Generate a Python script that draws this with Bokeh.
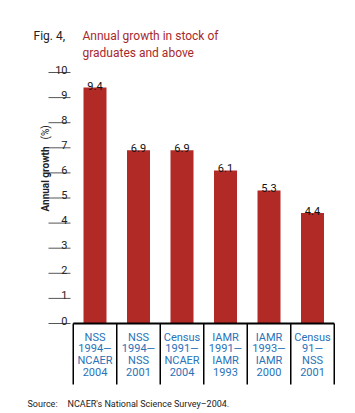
import math
from bokeh.plotting import figure
from bokeh.models import Range1d
from bokeh.core.properties import value
from bokeh.embed import file_html
from bokeh.resources import INLINE

# ---- data ----
categories = [
    "NSS\n1994\u2014\nNCAER\n2004",
    "NSS\n1994\u2014\nNSS\n2001",
    "Census\n1991\u2014\nNCAER\n2004",
    "IAMR\n1991\u2014\nIAMR\n1993",
    "IAMR\n1993\u2014\nIAMR\n2000",
    "Census\n91\u2014\nNSS\n2001",
]
growth = [9.4, 6.9, 6.9, 6.1, 5.3, 4.4]
value_labels = ["9.4", "6.9", "6.9", "6.1", "5.3", "4.4"]
y_ticks = [0, 1, 2, 3, 4, 5, 6, 7, 8, 9, 10]
y_tick_labels = [str(t) for t in y_ticks]

# ---- layout (page pixel units) ----
W, H = 355, 413
PXU_X = 43.5
X0 = 94.5
PXU_Y = 25.1
Y0 = 323.0
FONT = "Roboto"
BAR = "#b22a26"
RED = "#a8282d"
BLUE = "#2a72b8"

x_start = -X0 / PXU_X
x_end = x_start + W / PXU_X
y_start = -(H - Y0) / PXU_Y
y_end = Y0 / PXU_Y

p = figure(width=W, height=H,
           x_range=Range1d(x_start, x_end), y_range=Range1d(y_start, y_end),
           output_backend="svg", toolbar_location=None, min_border=0,
           x_axis_location=None, y_axis_location=None,
           outline_line_color=None, background_fill_color="white")
p.grid.visible = False
p.extra_x_ranges = {"px": Range1d(0, W)}
p.extra_y_ranges = {"py": Range1d(H, 0)}

idx = list(range(len(categories)))

# bars
p.vbar(x=idx, top=growth, bottom=0, width=23 / PXU_X, color=BAR, line_color=None)

# value labels
p.text(x=idx, y=growth, text=value_labels, text_align="center",
       text_baseline="alphabetic", y_offset=-2,
       text_font=value(FONT), text_font_size="11px", text_color="#111111")

# category box
box_bottom = -(384 - Y0) / PXU_Y
edges = [i - 0.5 for i in range(len(categories) + 1)]
p.segment(x0=[edges[0]], x1=[edges[-1]], y0=[0], y1=[0], line_color="black", line_width=2)
p.segment(x0=edges, x1=edges, y0=[0] * len(edges), y1=[box_bottom] * len(edges),
          line_color="black", line_width=1.5)

# category labels
p.text(x=idx, y=[-(330 - Y0) / PXU_Y] * len(idx), text=categories,
       text_align="center", text_baseline="top", text_line_height=0.92,
       text_font=value(FONT), text_font_size="11px", text_color=BLUE)

# y ticks
p.segment(x0=[48] * len(y_ticks), x1=[70] * len(y_ticks), y0=y_ticks, y1=y_ticks,
          x_range_name="px", line_color="#555555", line_width=1)
p.text(x=[67] * len(y_ticks), y=y_ticks, text=y_tick_labels, x_range_name="px",
       text_align="right", text_baseline="alphabetic", y_offset=-3,
       text_font=value(FONT), text_font_size="11px", text_color="#222222")

# axis title
p.text(x=[45], y=[211], text=["Annual growth"], angle=math.pi / 2,
       x_range_name="px", y_range_name="py", text_align="left",
       text_baseline="alphabetic", text_font=value(FONT), text_font_style="bold",
       text_font_size="10px", text_color="#222222")
p.text(x=[45], y=[139], text=["(%)"], angle=math.pi / 2,
       x_range_name="px", y_range_name="py", text_align="left",
       text_baseline="alphabetic", text_font=value(FONT),
       text_font_size="10px", text_color="#222222")

# title
p.text(x=[33], y=[35], text=["Fig. 4,"], x_range_name="px", y_range_name="py",
       text_baseline="alphabetic", text_font=value(FONT), text_font_size="12px",
       text_color="#222222")
p.text(x=[82, 82], y=[35, 52], text=["Annual growth in stock of", "graduates and above"],
       x_range_name="px", y_range_name="py", text_baseline="alphabetic",
       text_font=value(FONT), text_font_size="12px", text_color=RED)

# source
p.text(x=[27, 67], y=[403, 403], text=["Source:", "NCAER's National Science Survey\u20132004."],
       x_range_name="px", y_range_name="py", text_baseline="alphabetic",
       text_font=value(FONT), text_font_size="9px", text_color="#222222")

open("out.html", "w").write(file_html(p, INLINE))
